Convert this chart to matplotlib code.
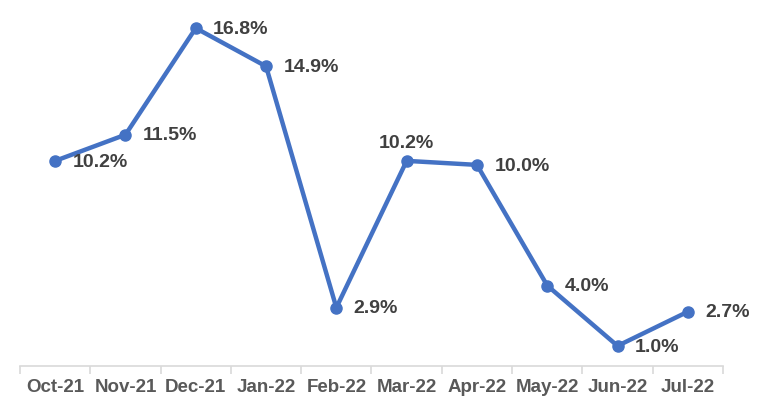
import matplotlib

matplotlib.use("Agg")
import matplotlib.pyplot as plt

months = ["Oct-21", "Nov-21", "Dec-21", "Jan-22", "Feb-22",
          "Mar-22", "Apr-22", "May-22", "Jun-22", "Jul-22"]
growth = [10.2, 11.5, 16.8, 14.9, 2.9, 10.2, 10.0, 4.0, 1.0, 2.7]
labels = ["10.2%", "11.5%", "16.8%", "14.9%", "2.9%",
          "10.2%", "10.0%", "4.0%", "1.0%", "2.7%"]

BLUE = "#4472C4"
TEXT = "#404040"

plt.rcParams["font.family"] = ["Liberation Sans", "DejaVu Sans"]

fig = plt.figure(figsize=(7.63, 4.11), dpi=100)
ax = fig.add_axes([20 / 763, 45 / 411, 703 / 763, 362 / 411])

x = list(range(len(months)))
ax.plot(x, growth, color=BLUE, lw=3.2, marker="o", ms=8, zorder=3,
        solid_joinstyle="round", clip_on=False)

# data labels: right of point, except Mar-22 which sits above
for i, (v, lab) in enumerate(zip(growth, labels)):
    if i == 5:
        ax.annotate(lab, (i, v), xytext=(0, 12.5), textcoords="offset points",
                    ha="center", va="center", fontsize=14,
                    fontweight="bold", color=TEXT)
    else:
        dy = -1.5 if i in (0, 8) else -0.8
        ax.annotate(lab, (i, v), xytext=(12.5, dy), textcoords="offset points",
                    ha="left", va="center", fontsize=14,
                    fontweight="bold", color=TEXT, annotation_clip=False)

ax.set_xlim(-0.5, len(months) - 0.5)
ax.set_ylim(0, 18)
ax.set_yticks([])
for side in ("left", "right", "top"):
    ax.spines[side].set_visible(False)
ax.spines["bottom"].set_color("#D9D9D9")
ax.spines["bottom"].set_linewidth(1.2)

ax.set_xticks(x)
ax.set_xticklabels(months, fontsize=13.5, fontweight="bold", color="#595959")
ax.tick_params(axis="x", which="major", length=0, pad=9)
ax.set_xticks([i - 0.5 for i in range(len(months) + 1)], minor=True)
ax.tick_params(axis="x", which="minor", length=6, width=1.2, color="#D9D9D9")

fig.savefig("out.png", dpi=100)
